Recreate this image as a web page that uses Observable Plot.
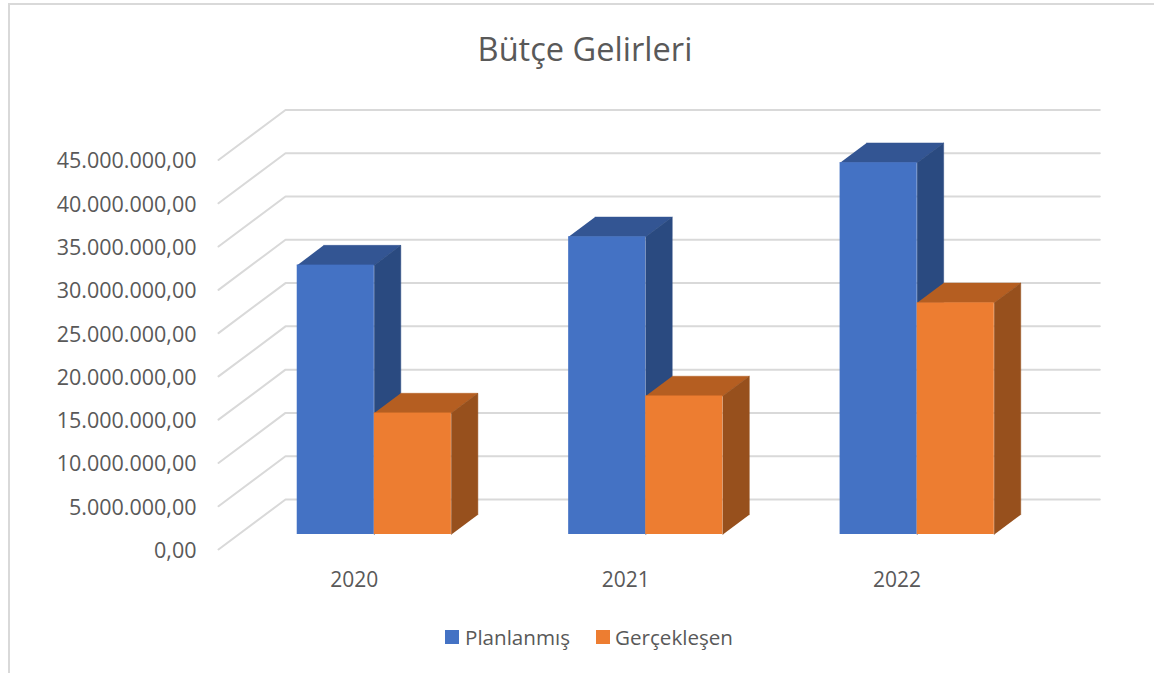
<!DOCTYPE html>
<html lang="tr">
<head>
<meta charset="utf-8">
<title>Bütçe Gelirleri</title>
<script src="https://cdn.jsdelivr.net/npm/d3@7"></script>
<script src="https://cdn.jsdelivr.net/npm/@observablehq/plot@0.6"></script>
<style>
  html, body { margin: 0; padding: 0; width: 1154px; height: 673px; overflow: hidden; background: #fff; }
  body { position: relative; font-family: "Open Sans", sans-serif; color: #595959; }
  #frame { position: absolute; left: 8px; top: 3px; right: 0; bottom: 0; border-left: 2px solid #d9d9d9; border-top: 2px solid #d9d9d9; }
  #title { position: absolute; left: 0; width: 1170px; top: 26px; margin: 0; text-align: center; font-size: 32.6px; font-weight: 400; line-height: 46px; }
  #chart { position: absolute; left: 0; top: 90px; }
  #legend { position: absolute; left: 445px; top: 623px; display: flex; align-items: center; font-size: 20.6px; line-height: 28px; }
  #legend i { display: inline-block; width: 14px; height: 14px; margin-right: 6px; }
  #legend span { display: flex; align-items: center; margin-right: 26px; }
  #legend span + span i { margin-right: 5px; }
</style>
</head>
<body>
<div id="frame"></div>
<h1 id="title">Bütçe Gelirleri</h1>
<div id="chart"></div>
<div id="legend">
  <span><i style="background:#4472c4"></i>Planlanmış</span>
  <span><i style="background:#ed7d31"></i>Gerçekleşen</span>
</div>
<script>
const years = ["2020", "2021", "2022"];
const planned = [31120000, 34390000, 42950000];
const realized = [14030000, 16000000, 26760000];
const yTicks = [0, 5e6, 10e6, 15e6, 20e6, 25e6, 30e6, 35e6, 40e6, 45e6];

const plannedColors = {front: "#4472c4", top: "#335593", side: "#2a4a80"};
const realizedColors = {front: "#ed7d31", top: "#b55e21", side: "#97501d"};

// Oblique projection: depth 0 is the front edge of the floor, depth 1 the back wall.
const depthX = 67 / 271.4;      // in category units
const depthY = 5780000;         // in value units
const barFront = 0.3, barBack = 0.695;
const barGap = 0.216, barWidth = 0.284;

const px = (x, d) => x + d * depthX;
const py = (v, d) => v + d * depthY;
const pt = (x, v, d) => ({x: px(x, d), y: py(v, d)});

const fmt = d3.formatLocale({decimal: ",", thousands: ".", grouping: [3], currency: ["", ""]}).format(",.2f");

const gridMarks = yTicks.map((v) =>
  Plot.line([pt(0, v, 0), pt(0, v, 1), pt(years.length, v, 1)], {
    x: "x", y: "y", stroke: "#d9d9d9", strokeWidth: 2
  })
);

function barMarks(x0, value, colors) {
  const x1 = x0 + barWidth;
  const face = (points, fill) =>
    Plot.line(points, {x: "x", y: "y", fill, stroke: fill, strokeWidth: 0.5});
  return [
    face([pt(x0, value, barFront), pt(x1, value, barFront), pt(x1, value, barBack), pt(x0, value, barBack)], colors.top),
    face([pt(x1, 0, barFront), pt(x1, value, barFront), pt(x1, value, barBack), pt(x1, 0, barBack)], colors.side),
    Plot.rect([{x1: px(x0, barFront), x2: px(x1, barFront), y1: py(0, barFront), y2: py(value, barFront)}], {
      x1: "x1", x2: "x2", y1: "y1", y2: "y2", fill: colors.front
    })
  ];
}

const bars = years.flatMap((_, i) => [
  ...barMarks(i + barGap, planned[i], plannedColors),
  ...barMarks(i + barGap + barWidth, realized[i], realizedColors)
]);

const chart = Plot.plot({
  width: 1154,
  height: 510,
  marginLeft: 218,
  marginRight: 121.7,
  marginTop: 69.5,
  marginBottom: 51,
  style: {fontFamily: '"Open Sans", sans-serif', fontSize: "21px", color: "#595959", background: "transparent", overflow: "visible"},
  x: {domain: [0, years.length], range: [218, 1032.3]},
  y: {domain: [0, 45e6], range: [459, 69.5]},
  marks: [
    ...gridMarks,
    ...bars,
    Plot.axisY({ticks: yTicks, tickFormat: fmt, tickSize: 0, tickPadding: 22, label: null, anchor: "left", fontSize: 21.5, dy: 1.5}),
    Plot.axisX({ticks: years.map((_, i) => i + 0.5), tickFormat: (t) => years[Math.floor(t)], tickSize: 0, tickPadding: 23, label: null, anchor: "bottom", fontSize: 21})
  ]
});
document.getElementById("chart").append(chart);
</script>
</body>
</html>
